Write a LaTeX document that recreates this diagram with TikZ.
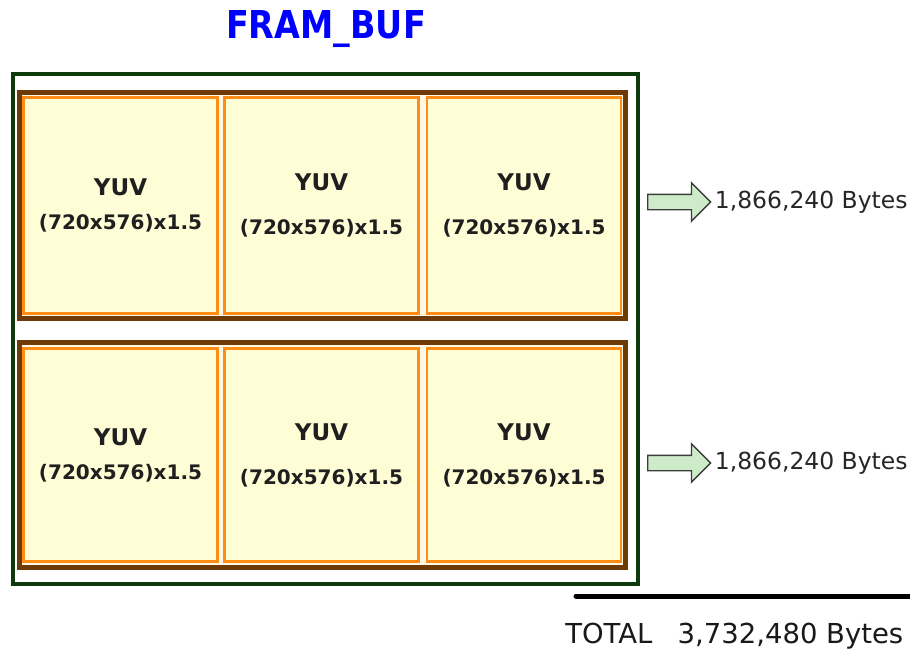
\documentclass[tikz,border=0pt]{standalone}
\usepackage{fontspec}
\setmainfont{DejaVu Sans}
\newfontfamily\titlefont{DejaVu Sans}[FakeStretch=0.87]
\usepackage{xcolor}
\usepackage{tikz}
\usetikzlibrary{positioning,shapes.arrows}

\definecolor{framegreen}{RGB}{12,58,12}
\definecolor{rowbrown}{RGB}{110,58,5}
\definecolor{cellorange}{RGB}{255,140,20}
\definecolor{cellfill}{RGB}{255,253,214}
\definecolor{rowfill}{RGB}{255,248,228}
\definecolor{arrowfill}{RGB}{205,235,200}
\definecolor{arrowline}{RGB}{60,60,60}

\begin{document}
\begin{tikzpicture}[
    x=0.75pt, y=-0.75pt,
    title/.style={font=\titlefont\bfseries\fontsize{28.8}{32}\selectfont, text=blue, inner sep=0pt},
    bufframe/.style={draw=framegreen, line width=3pt},
    rowbox/.style={draw=rowbrown, fill=rowfill, line width=3.75pt},
    cell/.style={draw=cellorange, fill=cellfill, line width=1.9pt, minimum width=145.5pt, inner sep=0pt},
    yuv/.style={font=\bfseries\fontsize{17.25}{20}\selectfont, text=black!88, inner sep=0pt},
    dims/.style={font=\bfseries\fontsize{15}{18}\selectfont, text=black!88, inner sep=0pt},
    sizearrow/.style={single arrow, draw=arrowline, fill=arrowfill, line width=1pt, inner xsep=0pt, inner ysep=5.25pt, minimum width=27.75pt, minimum height=47.25pt, single arrow head extend=8.6pt},
    bytes/.style={font=\fontsize{17.6}{20}\selectfont, text=black!85, inner sep=0pt},
    total/.style={font=\fontsize{20.6}{24}\selectfont, text=black!90, inner sep=0pt},
]
\useasboundingbox (0,0) rectangle (910,650);

% Title
\node[title, anchor=base] (title) at (326,38.5) {FRAM\_BUF};

% Buffer frame and the two rows
\draw[bufframe] (12.5,73.5) rectangle (637.5,583.5);
\draw[rowbox] (19.5,92) rectangle (625.5,318.5);
\draw[rowbox] (19.5,342.5) rectangle (625.5,567.5);

% YUV frames, 3 per row
\foreach \row/\cy/\rowh in {1/205.5/162pt, 2/455/159.75pt}{
  \foreach \col/\cx/\gap in {1/120.5/18, 2/321.5/23, 3/524/23}{
    \node[cell, minimum height=\rowh] (cell\row\col) at (\cx,\cy) {};
    \node[yuv] (yuv\row\col) at (\cx,{\cy-\gap}) {YUV};
    \node[dims] (dims\row\col) at (\cx,{\cy+\gap}) {(720x576)x1.5};
  }
}

% Row sizes
\node[sizearrow, anchor=tail] (arrow1) at (647,202) {};
\node[bytes, right=2.25pt of arrow1.tip] (bytes1) {1,866,240 Bytes};
\node[sizearrow, anchor=tail] (arrow2) at (647,463) {};
\node[bytes, right=2.25pt of arrow2.tip] (bytes2) {1,866,240 Bytes};

% Sum
\coordinate (sumstart) at (576,596);
\coordinate (sumend) at (910,596);
\draw[line width=3.75pt, line cap=round] (sumstart) -- (sumend);
\node[total, anchor=base west] (total) at (565,643) {TOTAL\hspace{19pt}3,732,480 Bytes};

\end{tikzpicture}
\end{document}
